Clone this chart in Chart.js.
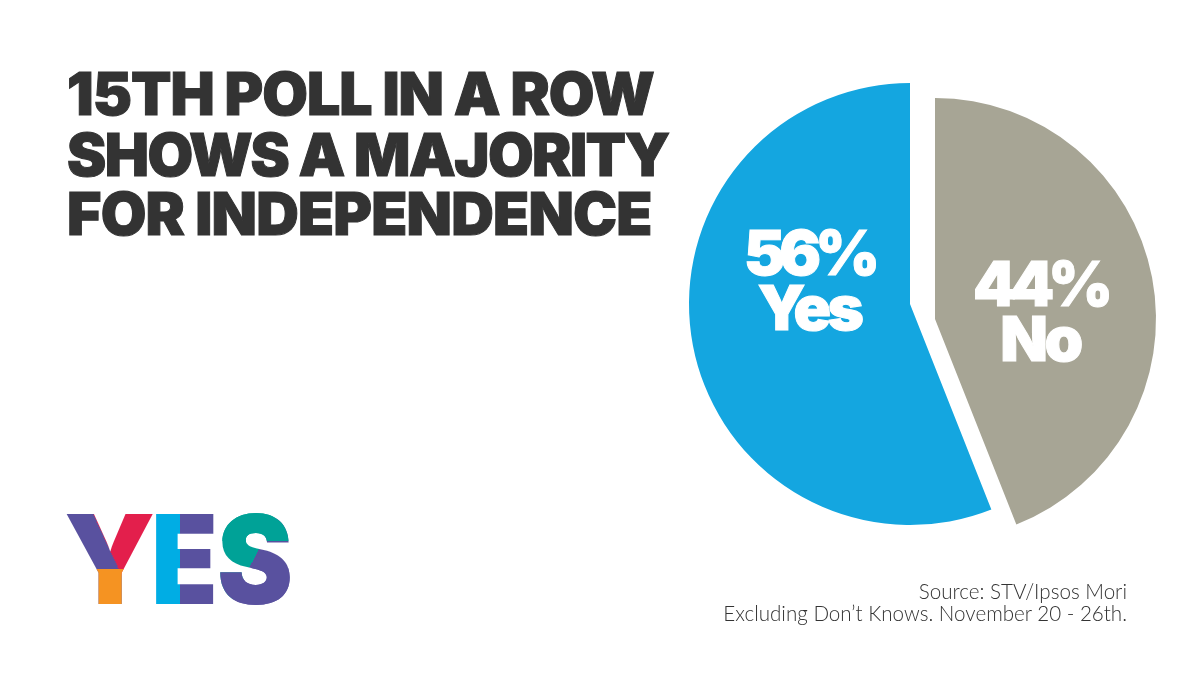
<!DOCTYPE html>
<html>
<head>
<meta charset="utf-8">
<title>15th poll in a row</title>
<script src="https://cdn.jsdelivr.net/npm/chart.js@4"></script>
<style>
  html, body { margin: 0; padding: 0; background: #fff; }
  #wrap { position: relative; width: 1200px; height: 675px; overflow: hidden; font-family: Inter, sans-serif; }
  #chart { position: absolute; left: 0; top: 0; }
  .title { position: absolute; left: 67px; color: #333333; font-weight: 900; font-size: 59px; line-height: 60px; white-space: nowrap; -webkit-text-stroke: 1px #333333; }
  .source { position: absolute; right: 73px; color: #333333; font-family: Lato, sans-serif; font-weight: 300; font-size: 20.6px; line-height: 22px; white-space: nowrap; text-align: right; }
  .logo { position: absolute; top: 497px; font-weight: 900; font-size: 124px; line-height: 124px; color: transparent; -webkit-background-clip: text; background-clip: text; transform-origin: left center; }
  #logoY { left: 64px; transform: scaleX(.95); background-image: linear-gradient(0deg, #F59322 42%, transparent 42%), linear-gradient(64deg, #59519F 53%, #E31F4C 53%); }
  #logoE { left: 151px; transform: scaleX(.88); background-image: linear-gradient(90deg, #00ADE4 44%, #59519F 44%); }
  #logoS { left: 217.4px; transform: scaleX(.92); background-image: linear-gradient(0deg, #59519F 43%, transparent 43%), linear-gradient(180deg, #00A297 35.5%, transparent 35.5%), linear-gradient(119deg, #00A297 49%, #59519F 49%); }
</style>
</head>
<body>
<div id="wrap">
  <canvas id="chart" width="1200" height="675"></canvas>
  <div class="title" style="top:64px; letter-spacing:-1px">15TH POLL IN A ROW</div>
  <div class="title" style="top:125px; letter-spacing:-1.55px">SHOWS A MAJORITY</div>
  <div class="title" style="top:184px; letter-spacing:-.8px">FOR INDEPENDENCE</div>
  <div class="logo" id="logoY">Y</div>
  <div class="logo" id="logoE">E</div>
  <div class="logo" id="logoS">S</div>
  <div class="source" style="top:580px">Source: STV/Ipsos Mori</div>
  <div class="source" style="top:602px">Excluding Don’t Knows. November 20 - 26th.</div>
</div>
<script>
const categories = ["No", "Yes"];
const values = [44, 56];
const sliceColors = ["#A7A595", "#14A6E0"];

// the two slices are pulled apart sideways, not along their mid angle
const sliceShiftX = [12.5, -12.5];
const sliceShiftY = [7.5, -7.5];
const labelShiftX = [105, -101];
const labelShiftY = [-9, -25];

const splitSlices = {
  id: "splitSlices",
  afterDatasetsUpdate(chart) {
    chart.getDatasetMeta(0).data.forEach((arc, i) => {
      arc.x += sliceShiftX[i];
      arc.y += sliceShiftY[i];
    });
  }
};

const sliceLabels = {
  id: "sliceLabels",
  afterDraw(chart) {
    const ctx = chart.ctx;
    ctx.save();
    ctx.fillStyle = "#fff";
    ctx.strokeStyle = "#fff";
    ctx.lineWidth = 1;
    ctx.textAlign = "center";
    ctx.textBaseline = "alphabetic";
    ctx.font = "900 62px Inter";
    chart.getDatasetMeta(0).data.forEach((arc, i) => {
      const x = arc.x + labelShiftX[i];
      const y = arc.y + labelShiftY[i];
      ctx.letterSpacing = "-6px";
      ctx.fillText(values[i] + "%", x, y - 4);
      ctx.strokeText(values[i] + "%", x, y - 4);
      ctx.letterSpacing = "-3.5px";
      ctx.fillText(categories[i], x, y + 51);
      ctx.strokeText(categories[i], x, y + 51);
    });
    ctx.restore();
  }
};

new Chart(document.getElementById("chart"), {
  type: "pie",
  data: {
    labels: categories,
    datasets: [{
      data: values,
      backgroundColor: sliceColors,
      borderWidth: 0
    }]
  },
  options: {
    responsive: false,
    animation: false,
    layout: { padding: { left: 701.5, right: 56.5, top: 90.5, bottom: 142.5 } },
    plugins: {
      legend: { display: false },
      tooltip: { enabled: false }
    }
  },
  plugins: [splitSlices, sliceLabels]
});
</script>
</body>
</html>
